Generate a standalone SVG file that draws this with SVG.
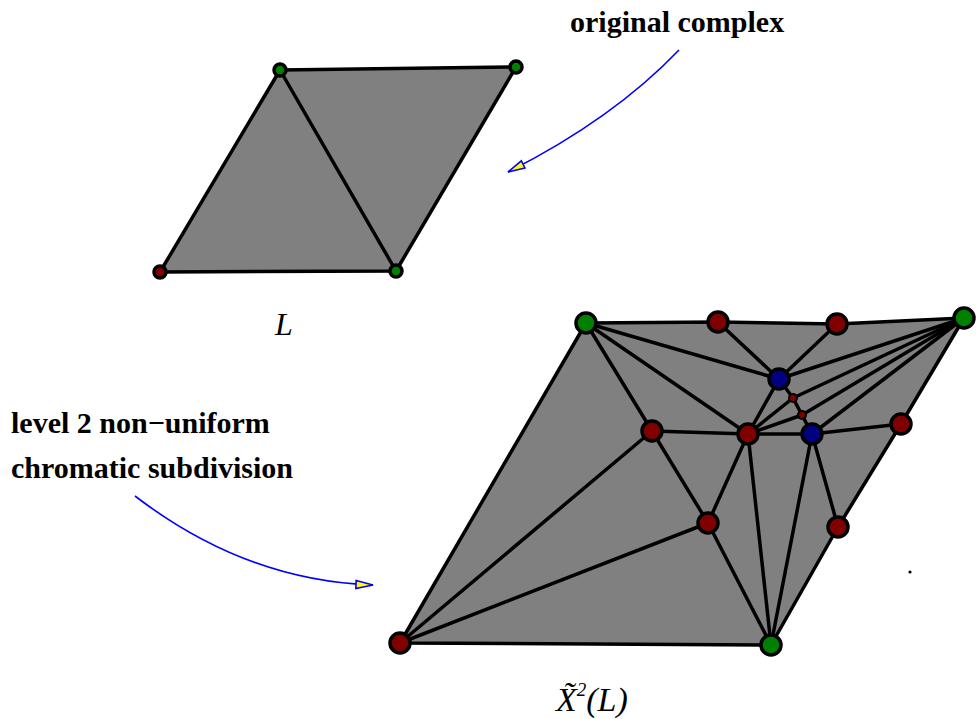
<svg xmlns="http://www.w3.org/2000/svg" width="980" height="719" viewBox="0 0 980 719">
<defs>
<style>
.face{fill:#808080;stroke:#000;stroke-width:3.5;stroke-linejoin:round}
.e{stroke:#000;stroke-width:3.5;fill:none;stroke-linecap:round}
.n{stroke:#000;stroke-width:3.5}
.ns{stroke:#000;stroke-width:2}
.g{fill:#008000}.r{fill:#800000}.b{fill:#000080}
.lbl{font-family:"Liberation Serif","Times New Roman",serif;font-weight:bold;font-size:30px;fill:#000}
.math{font-family:"Liberation Serif","Times New Roman",serif;font-style:italic;fill:#000}
.arr{stroke:#0000ff;stroke-width:1.6;fill:none}
</style>
<marker id="ah" markerUnits="userSpaceOnUse" markerWidth="20" markerHeight="12" refX="17" refY="5" orient="auto" viewBox="-1 -1 20 12">
<path d="M0,1 L17,5 L0,9 z" fill="#ffff00" stroke="#0000ff" stroke-width="1.6"/>
</marker>
</defs>
<rect width="980" height="719" fill="#fff"/>

<g id="small-complex">
<polygon class="face" points="280,70 516,67 396,271 160,272"/>
<line class="e" x1="280" y1="70" x2="396" y2="271"/>
<circle id="s-tl" class="n g" cx="280" cy="70" r="6"/>
<circle id="s-tr" class="n g" cx="516" cy="67" r="6"/>
<circle id="s-br" class="n g" cx="396" cy="271" r="6"/>
<circle id="s-bl" class="n r" cx="160" cy="272" r="6"/>
</g>

<g id="big-face">
<polygon class="face" points="586,323 718,322 837,324 964,318 901,424 838,527 771,645 400,643"/>
</g>

<g id="connectors">
<line class="e" x1="586" y1="323" x2="652" y2="431"/>
<line class="e" x1="586" y1="323" x2="748" y2="434"/>
<line class="e" x1="586" y1="323" x2="779" y2="379"/>
<line class="e" x1="718" y1="322" x2="779" y2="379"/>
<line class="e" x1="837" y1="324" x2="779" y2="379"/>
<line class="e" x1="964" y1="318" x2="779" y2="379"/>
<line class="e" x1="964" y1="318" x2="793" y2="398"/>
<line class="e" x1="964" y1="318" x2="802" y2="415"/>
<line class="e" x1="964" y1="318" x2="812" y2="434"/>
<line class="e" x1="779" y1="379" x2="748" y2="434"/>
<line class="e" x1="779" y1="379" x2="793" y2="398"/>
<line class="e" x1="793" y1="398" x2="802" y2="415"/>
<line class="e" x1="802" y1="415" x2="812" y2="434"/>
<line class="e" x1="748" y1="434" x2="793" y2="398"/>
<line class="e" x1="748" y1="434" x2="802" y2="415"/>
<line class="e" x1="748" y1="434" x2="812" y2="434"/>
<line class="e" x1="652" y1="431" x2="748" y2="434"/>
<line class="e" x1="652" y1="431" x2="400" y2="643"/>
<line class="e" x1="652" y1="431" x2="708" y2="523"/>
<line class="e" x1="708" y1="523" x2="748" y2="434"/>
<line class="e" x1="708" y1="523" x2="400" y2="643"/>
<line class="e" x1="708" y1="523" x2="771" y2="645"/>
<line class="e" x1="748" y1="434" x2="771" y2="645"/>
<line class="e" x1="812" y1="434" x2="771" y2="645"/>
<line class="e" x1="812" y1="434" x2="838" y2="527"/>
<line class="e" x1="812" y1="434" x2="901" y2="424"/>
<path class="arr" d="M679,50 Q613,119 508,172" marker-end="url(#ah)"/>
<path class="arr" d="M135,496 Q246,581 373,585" marker-end="url(#ah)"/>
</g>

<g id="n-tl"><circle class="n g" cx="586" cy="323" r="10"/></g>
<g id="n-top1"><circle class="n r" cx="718" cy="322" r="10"/></g>
<g id="n-top2"><circle class="n r" cx="837" cy="324" r="10"/></g>
<g id="n-tr"><circle class="n g" cx="964" cy="318" r="10"/></g>
<g id="n-blue1"><circle class="n b" cx="779" cy="379" r="10"/></g>
<g id="n-sa"><circle class="ns r" cx="793" cy="398" r="4"/></g>
<g id="n-sb"><circle class="ns r" cx="802" cy="415" r="4"/></g>
<g id="n-blue2"><circle class="n b" cx="812" cy="434" r="10"/></g>
<g id="n-rc"><circle class="n r" cx="748" cy="434" r="10"/></g>
<g id="n-rl"><circle class="n r" cx="652" cy="431" r="10"/></g>
<g id="n-rr"><circle class="n r" cx="901" cy="424" r="10"/></g>
<g id="n-rlow"><circle class="n r" cx="708" cy="523" r="10"/></g>
<g id="n-rrl"><circle class="n r" cx="838" cy="527" r="10"/></g>
<g id="n-bl"><circle class="n r" cx="400" cy="643" r="10"/></g>
<g id="n-br"><circle class="n g" cx="771" cy="645" r="10"/></g>

<circle cx="910" cy="572" r="1.6" fill="#000"/>

<g id="labels">
<text class="lbl" x="570" y="32">original complex</text>
<text class="lbl" x="11" y="433">level 2 non−uniform</text>
<text class="lbl" x="11" y="478">chromatic subdivision</text>
<text class="math" x="275" y="335" font-size="32">L</text>
<text class="math" x="556" y="711" font-size="34">X̃<tspan font-size="19" dy="-15">2</tspan><tspan dy="15">(L)</tspan></text>
</g>
</svg>
